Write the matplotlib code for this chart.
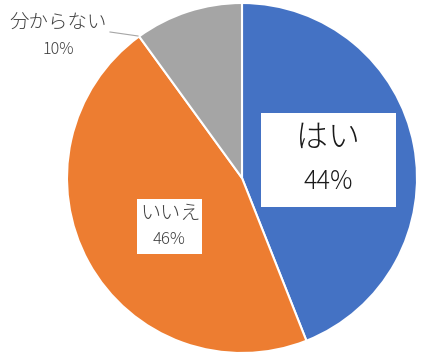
import matplotlib
matplotlib.use('Agg')
import matplotlib.pyplot as plt
from matplotlib.patches import Rectangle

plt.rcParams['font.family'] = ['Noto Sans CJK JP', 'DejaVu Sans']
plt.rcParams['font.weight'] = 'light'

# data
labels = ['はい', 'いいえ', '分からない']
shares = [44, 46, 10]
colors = ['#4472C4', '#ED7D31', '#A5A5A5']

W, H = 421, 358
CX, CY, R = 242, 178, 175   # pie centre / radius in pixels

fig = plt.figure(figsize=(W / 100, H / 100), dpi=100)
ax = fig.add_axes([(CX - R) / W, (H - CY - R) / H, 2 * R / W, 2 * R / H])
ax.pie(shares, colors=colors, startangle=90, counterclock=False,
       wedgeprops=dict(edgecolor='white', linewidth=1.5))
ax.set_xlim(-1, 1)
ax.set_ylim(-1, 1)
ax.set_aspect('equal')
ax.axis('off')


def d(px, py):
    # pixel position in the image -> data coords of the pie axes
    return (px - CX) / R, (CY - py) / R


def box(x0, y0, x1, y1):
    (a, b), (c, e) = d(x0, y1), d(x1, y0)
    ax.add_patch(Rectangle((a, b), c - a, e - b, fc='white', ec='none', zorder=3))


pct = [f'{v}%' for v in shares]

# はい : big boxed label in the blue slice
box(261, 113, 396, 207)
ax.text(*d(328, 138), labels[0], ha='center', va='center', fontsize=23,
        color='#1a1a1a', zorder=4)
ax.text(*d(328, 182), pct[0], ha='center', va='center', fontsize=18,
        color='#1a1a1a', zorder=4)

# いいえ : boxed label in the orange slice
box(137, 199, 202, 254)
ax.text(*d(170, 214), labels[1], ha='center', va='center', fontsize=14.5,
        color='#404040', zorder=4)
ax.text(*d(169, 240), pct[1], ha='center', va='center', fontsize=12,
        color='#404040', zorder=4)

# 分からない : outside label with leader line
ax.text(*d(58, 23), labels[2], ha='center', va='center', fontsize=14,
        color='#404040')
ax.text(*d(58, 50), pct[2], ha='center', va='center', fontsize=11.5,
        color='#404040')
(lx0, ly0), (lx1, ly1) = d(110, 32), d(138, 36)
ax.plot([lx0, lx1], [ly0, ly1], color='#A6A6A6', linewidth=0.8, clip_on=False)

fig.savefig('out.png', dpi=100)
